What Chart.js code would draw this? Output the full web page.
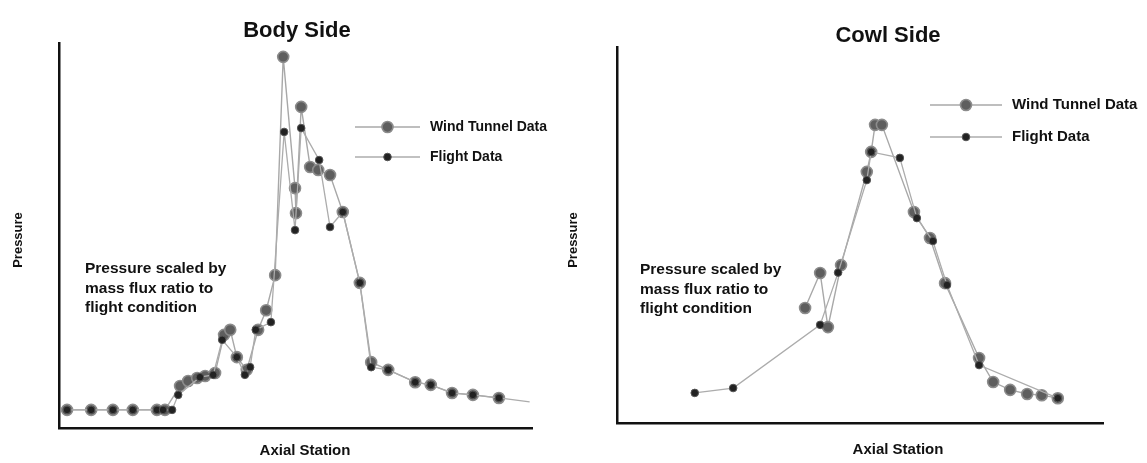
<!DOCTYPE html>
<html>
<head>
<meta charset="utf-8">
<script src="https://cdn.jsdelivr.net/npm/chart.js@4"></script>
<style>
  html, body { margin: 0; padding: 0; background: #fff; }
  #wrap { position: relative; width: 1147px; height: 463px; overflow: hidden; }
  #bodyChart { position: absolute; left: 0; top: 0; }
  #cowlChart { position: absolute; left: 560px; top: 0; }
</style>
</head>
<body>
<div id="wrap">
  <canvas id="bodyChart" width="560" height="463"></canvas>
  <canvas id="cowlChart" width="587" height="463"></canvas>
</div>
<script>
// Axial station and pressure in relative units (0-100 along each axis)

// Body side - wind tunnel
const bodyWindX = [1.7, 6.8, 11.4, 15.6, 20.7, 22.4, 25.6, 27.3, 29.2, 30.9, 33.0, 34.9, 36.2, 37.6, 39.7,
  42.1, 43.8, 45.7, 47.4, 49.9, 50.1, 51.2, 53.1, 54.8, 57.3, 60.0, 63.6, 66.0, 69.6, 75.3, 78.6, 83.1, 87.5, 93.0];
const bodyWindY = [4.7, 4.7, 4.7, 4.7, 4.7, 4.7, 10.9, 12.2, 13.0, 13.5, 14.3, 24.2, 25.5, 18.4, 15.1,
  25.5, 30.6, 39.7, 96.4, 62.3, 55.8, 83.4, 67.8, 67.0, 65.7, 56.1, 37.7, 17.1, 15.1, 11.9, 11.2, 9.1, 8.6, 7.8];

// Body side - flight (last entry is the trailing end of the line, no marker)
const bodyFlightX = [1.7, 6.8, 11.4, 15.6, 20.7, 22.0, 23.9, 25.2, 29.8, 32.6, 34.5, 37.6, 39.3, 40.4, 41.6,
  44.8, 47.6, 49.9, 51.2, 55.0, 57.3, 60.0, 63.6, 66.0, 69.6, 75.3, 78.6, 83.1, 87.5, 93.0, 99.5];
const bodyFlightY = [4.7, 4.7, 4.7, 4.7, 4.7, 4.7, 4.7, 8.6, 13.2, 13.8, 22.9, 18.4, 13.8, 15.8, 25.5,
  27.5, 76.9, 51.4, 77.9, 69.6, 52.2, 56.1, 37.7, 15.8, 15.1, 11.9, 11.2, 9.1, 8.6, 7.8, 6.8];

// Cowl side - wind tunnel
const cowlWindX = [38.7, 41.8, 43.4, 46.1, 51.4, 52.3, 53.1, 54.5, 61.1, 64.4, 67.5, 74.5, 77.4, 80.9, 84.4, 87.4, 90.7];
const cowlWindY = [30.6, 39.9, 25.5, 42.0, 66.8, 72.1, 79.3, 79.3, 56.1, 49.2, 37.2, 17.3, 10.9, 8.8, 7.7, 7.4, 6.6];

// Cowl side - flight
const cowlFlightX = [16.0, 23.9, 41.8, 45.5, 51.4, 52.3, 58.2, 61.7, 65.0, 67.9, 74.5, 90.7];
const cowlFlightY = [8.0, 9.3, 26.1, 40.0, 64.6, 72.1, 70.5, 54.5, 48.4, 36.7, 15.4, 6.6];

const seriesNames = ['Wind Tunnel Data', 'Flight Data'];
const noteLines = ['Pressure scaled by', 'mass flux ratio to', 'flight condition'];
const xAxisTitle = 'Axial Station';
const yAxisTitle = 'Pressure';

const FONT = '"Liberation Sans", Arial, Helvetica, sans-serif';
const WIND_R = 5.5;
const FLIGHT_R = 3.8;

function toPoints(xs, ys) {
  return xs.map((x, i) => ({ x: x, y: ys[i] }));
}

// Titles, axis names, note and legend drawn on the canvas
const panelText = {
  id: 'panelText',
  afterDraw(chart, args, o) {
    const ctx = chart.ctx;
    ctx.save();
    ctx.fillStyle = '#111';

    ctx.font = 'bold 22px ' + FONT;
    ctx.textAlign = 'center';
    ctx.textBaseline = 'alphabetic';
    ctx.fillText(o.title, o.titleX, o.titleY);

    ctx.textBaseline = 'middle';
    ctx.font = 'bold 15px ' + FONT;
    ctx.fillText(xAxisTitle, o.xTitleX, o.xTitleY);
    ctx.font = 'bold 13px ' + FONT;
    ctx.save();
    ctx.translate(o.yTitleX, o.yTitleY);
    ctx.rotate(-Math.PI / 2);
    ctx.fillText(yAxisTitle, 0, 0);
    ctx.restore();

    ctx.textAlign = 'left';
    ctx.font = 'bold 15.5px ' + FONT;
    noteLines.forEach((line, i) => ctx.fillText(line, o.noteX, o.noteY + i * 19.5));

    // legend rows
    ctx.font = 'bold ' + o.legendFont + 'px ' + FONT;
    chart.data.datasets.forEach((ds, i) => {
      const y = o.legendY + i * o.legendGap;
      ctx.strokeStyle = ds.borderColor;
      ctx.lineWidth = ds.borderWidth;
      ctx.beginPath();
      ctx.moveTo(o.legendX, y);
      ctx.lineTo(o.legendX + o.legendLen, y);
      ctx.stroke();
      ctx.beginPath();
      ctx.arc(o.legendX + o.legendLen / 2, y, ds.markerSize, 0, Math.PI * 2);
      ctx.fillStyle = ds.pointBackgroundColor;
      ctx.fill();
      ctx.lineWidth = ds.pointBorderWidth;
      ctx.strokeStyle = ds.pointBorderColor;
      ctx.stroke();
      ctx.fillStyle = '#111';
      ctx.fillText(seriesNames[i], o.legendX + o.legendLen + 10, y);
    });
    ctx.restore();
  }
};

function makeDatasets(wx, wy, fx, fy, trailingEnd) {
  return [
    {
      label: seriesNames[0],
      data: toPoints(wx, wy),
      showLine: true,
      borderColor: '#a8a8a8',
      borderWidth: 1.4,
      markerSize: WIND_R,
      pointRadius: WIND_R,
      pointBackgroundColor: '#5e5e5e',
      pointBorderColor: '#8c8c8c',
      pointBorderWidth: 1.6,
      order: 2
    },
    {
      label: seriesNames[1],
      data: toPoints(fx, fy),
      showLine: true,
      borderColor: '#acacac',
      borderWidth: 1.3,
      markerSize: FLIGHT_R,
      pointRadius: (c) => (trailingEnd && c.dataIndex === fx.length - 1 ? 0 : FLIGHT_R),
      pointBackgroundColor: '#222',
      pointBorderColor: '#555',
      pointBorderWidth: 1,
      order: 1
    }
  ];
}

function axis() {
  return {
    type: 'linear',
    min: 0,
    max: 100,
    grid: { display: false, drawTicks: false },
    ticks: { display: false },
    border: { display: true, color: '#111', width: 2.5 }
  };
}

function makeChart(id, datasets, padding, text) {
  return new Chart(document.getElementById(id), {
    type: 'scatter',
    data: { datasets: datasets },
    options: {
      responsive: false,
      animation: false,
      layout: { padding: padding },
      clip: false,
      scales: { x: axis(), y: axis() },
      plugins: {
        legend: { display: false },
        tooltip: { enabled: false },
        panelText: text
      }
    },
    plugins: [panelText]
  });
}

makeChart('bodyChart',
  makeDatasets(bodyWindX, bodyWindY, bodyFlightX, bodyFlightY, true),
  { left: 59, right: 28, top: 43, bottom: 35 },
  {
    title: 'Body Side', titleX: 297, titleY: 37,
    xTitleX: 305, xTitleY: 451, yTitleX: 18, yTitleY: 240,
    noteX: 85, noteY: 269,
    legendX: 355, legendY: 127, legendGap: 30, legendLen: 65, legendFont: 14
  });

makeChart('cowlChart',
  makeDatasets(cowlWindX, cowlWindY, cowlFlightX, cowlFlightY, false),
  { left: 57, right: 44, top: 47, bottom: 40 },
  {
    title: 'Cowl Side', titleX: 328, titleY: 42,
    xTitleX: 338, xTitleY: 450, yTitleX: 13, yTitleY: 240,
    noteX: 80, noteY: 270,
    legendX: 370, legendY: 105, legendGap: 32, legendLen: 72, legendFont: 15
  });
</script>
</body>
</html>
